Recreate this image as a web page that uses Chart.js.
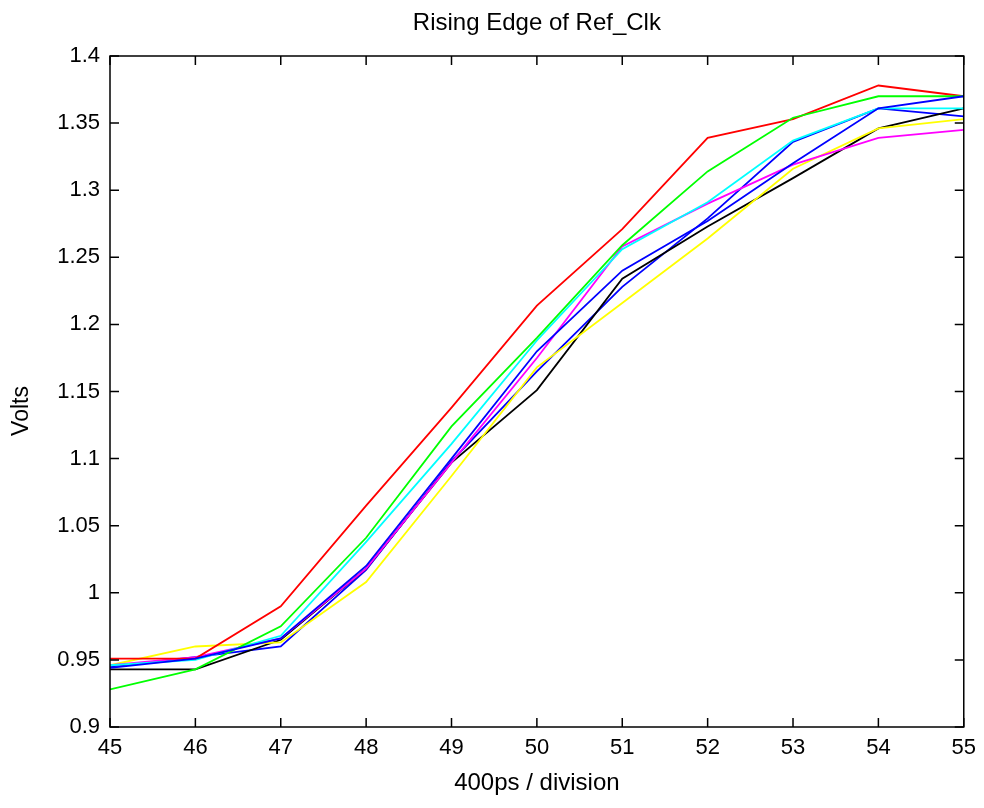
<!DOCTYPE html>
<html>
<head>
<meta charset="utf-8">
<script src="https://cdn.jsdelivr.net/npm/chart.js@4.4.1/dist/chart.umd.min.js"></script>
<style>
  html, body { margin: 0; padding: 0; background: #fff; }
  #wrap { width: 984px; height: 808px; }
</style>
</head>
<body>
<div id="wrap"><canvas id="cha" width="984" height="808"></canvas></div>
<script>
// time axis, 400ps per division
const divisions = [45, 46, 47, 48, 49, 50, 51, 52, 53, 54, 55];

// one trace per capture, MATLAB colour order b g r c m y k b
const blue1   = [0.944, 0.951, 0.966, 1.020, 1.100, 1.180, 1.240, 1.277, 1.320, 1.361, 1.370];
const green   = [0.928, 0.943, 0.975, 1.041, 1.124, 1.190, 1.259, 1.314, 1.354, 1.370, 1.370];
const red     = [0.951, 0.951, 0.990, 1.065, 1.138, 1.214, 1.271, 1.339, 1.353, 1.378, 1.370];
const cyan    = [0.946, 0.950, 0.968, 1.038, 1.111, 1.188, 1.256, 1.291, 1.337, 1.361, 1.361];
const magenta = [0.946, 0.952, 0.966, 1.018, 1.097, 1.175, 1.258, 1.290, 1.319, 1.339, 1.345];
const yellow  = [0.946, 0.960, 0.963, 1.008, 1.087, 1.168, 1.216, 1.264, 1.316, 1.346, 1.353];
const black   = [0.943, 0.943, 0.965, 1.018, 1.097, 1.151, 1.234, 1.273, 1.309, 1.346, 1.361];
const blue2   = [0.945, 0.952, 0.960, 1.017, 1.098, 1.165, 1.228, 1.279, 1.336, 1.361, 1.355];

const traces = [
  { data: blue1, color: '#0000ff' },
  { data: green, color: '#00ff00' },
  { data: red, color: '#ff0000' },
  { data: cyan, color: '#00ffff' },
  { data: magenta, color: '#ff00ff' },
  { data: yellow, color: '#ffff00' },
  { data: black, color: '#000000' },
  { data: blue2, color: '#0000ff' },
];

const font = "'Liberation Sans', Arial, sans-serif";

// box around the axes with inward ticks on all four sides,
// plus the title and the y label placed like MATLAB does
const boxTicks = {
  id: 'boxTicks',
  afterDatasetsDraw(chart) {
    const { ctx, chartArea: a, scales } = chart;
    const len = 9;
    ctx.save();
    ctx.strokeStyle = '#000';
    ctx.lineWidth = 1.5;
    ctx.strokeRect(a.left, a.top, a.right - a.left, a.bottom - a.top);
    ctx.beginPath();
    scales.x.ticks.forEach(t => {
      const px = scales.x.getPixelForValue(t.value);
      ctx.moveTo(px, a.bottom); ctx.lineTo(px, a.bottom - len);
      ctx.moveTo(px, a.top); ctx.lineTo(px, a.top + len);
    });
    scales.y.ticks.forEach(t => {
      const py = scales.y.getPixelForValue(t.value);
      ctx.moveTo(a.left, py); ctx.lineTo(a.left + len, py);
      ctx.moveTo(a.right, py); ctx.lineTo(a.right - len, py);
    });
    ctx.stroke();

    ctx.fillStyle = '#000';
    ctx.textAlign = 'center';
    ctx.textBaseline = 'middle';
    ctx.font = '24px ' + font;
    ctx.fillText('Rising Edge of Ref_Clk', (a.left + a.right) / 2, 23);

    ctx.translate(22, 411);
    ctx.rotate(-Math.PI / 2);
    ctx.font = '23px ' + font;
    ctx.fillText('Volts', 0, 0);
    ctx.restore();
  }
};

const chart = new Chart(document.getElementById('cha'), {
  type: 'line',
  data: {
    datasets: traces.map((t, i) => ({
      label: 'trace ' + (i + 1),
      data: divisions.map((x, k) => ({ x: x, y: t.data[k] })),
      borderColor: t.color,
      backgroundColor: t.color,
      borderWidth: 1.8,
      pointRadius: 0,
      tension: 0,
      fill: false,
    })),
  },
  options: {
    responsive: false,
    animation: false,
    layout: { padding: { left: 0, right: 16, top: 56, bottom: 0 } },
    plugins: {
      legend: { display: false },
      tooltip: { enabled: false },
      title: { display: false },
    },
    scales: {
      x: {
        type: 'linear',
        min: 45,
        max: 55,
        grid: { display: false, drawTicks: false },
        border: { display: false },
        ticks: {
          stepSize: 1,
          padding: 8,
          color: '#000',
          font: { family: font, size: 22 },
        },
        title: {
          display: true,
          text: '400ps / division',
          color: '#000',
          font: { family: font, size: 24 },
          padding: { top: 0, bottom: 10 },
        },
        afterFit(scale) { scale.height = 81; },
      },
      y: {
        min: 0.9,
        max: 1.4,
        grid: { display: false, drawTicks: false },
        border: { display: false },
        ticks: {
          stepSize: 0.05,
          padding: 10,
          color: '#000',
          font: { family: font, size: 22 },
          callback: v => String(Number(v.toFixed(2))),
        },
        title: { display: false },
        afterFit(scale) { scale.width = 110; },
      },
    },
  },
  plugins: [boxTicks],
});
</script>
</body>
</html>
